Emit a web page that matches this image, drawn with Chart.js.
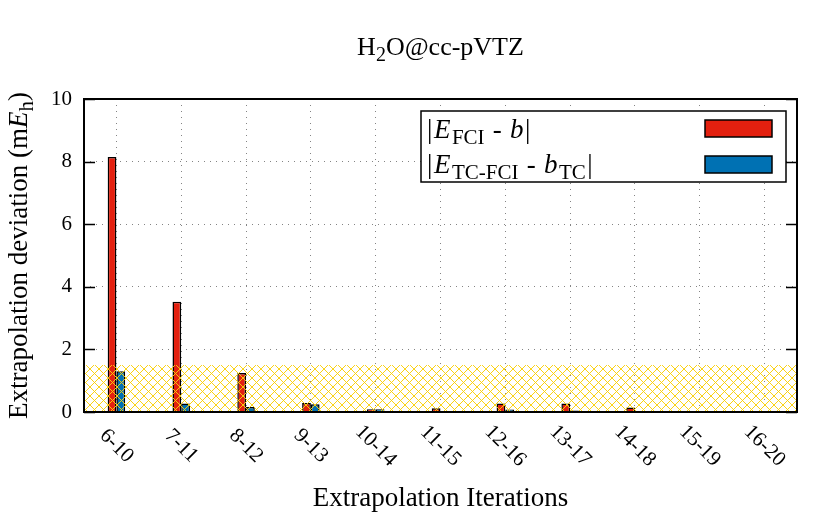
<!DOCTYPE html>
<html>
<head>
<meta charset="utf-8">
<script src="https://cdn.jsdelivr.net/npm/chart.js@4"></script>
<style>
  html, body { margin: 0; padding: 0; background: #fff; }
</style>
</head>
<body>
<canvas id="myChart" width="830" height="519"></canvas>
<script>
// data
var categories = ['6-10', '7-11', '8-12', '9-13', '10-14', '11-15', '12-16', '13-17', '14-18', '15-19', '16-20'];
var fciDev = [8.15, 3.52, 1.25, 0.29, 0.09, 0.12, 0.27, 0.27, 0.14, 0.02, 0.004];
var tcDev = [1.30, 0.27, 0.16, 0.25, 0.09, 0.02, 0.08, 0.05, 0.03, 0.01, 0.002];
var yTicks = [0, 2, 4, 6, 8, 10];
var shadeLimit = 1.5;

var SERIF = '"Liberation Serif", "Times New Roman", serif';
var RED = '#e3200f';
var BLUE = '#0071b3';

// draw a string made of pieces: n = normal, i = italic, s = subscript
function partFont(kind, size) {
    if (kind === 'i') return 'italic ' + size + 'px ' + SERIF;
    if (kind === 's') return Math.round(size * 0.78) + 'px ' + SERIF;
    return size + 'px ' + SERIF;
}
function drawRich(ctx, x, y, parts, size, align, gap) {
    gap = gap || 0;
    var w = 0;
    parts.forEach(function (p) {
        ctx.font = partFont(p[1], size);
        w += ctx.measureText(p[0]).width + gap;
    });
    if (align === 'center') x -= w / 2;
    ctx.textAlign = 'left';
    ctx.textBaseline = 'alphabetic';
    parts.forEach(function (p) {
        ctx.font = partFont(p[1], size);
        var dy = p[1] === 's' ? size * 0.24 : 0;
        ctx.fillText(p[0], x, y + dy);
        x += ctx.measureText(p[0]).width + gap;
    });
}

// yellow cross hatch
function makeHatch() {
    var c = document.createElement('canvas');
    c.width = 9; c.height = 9;
    var g = c.getContext('2d');
    g.strokeStyle = 'rgba(250, 208, 10, 0.95)';
    g.lineWidth = 1;
    g.beginPath();
    g.moveTo(-1, -1); g.lineTo(10, 10);
    g.moveTo(-1, 10); g.lineTo(10, -1);
    g.stroke();
    return c;
}

var decorations = {
    id: 'decorations',
    beforeDraw: function (chart) {
        var ctx = chart.ctx;
        ctx.save();
        ctx.fillStyle = '#fff';
        ctx.fillRect(0, 0, chart.width, chart.height);
        ctx.restore();
    },
    afterDatasetsDraw: function (chart) {
        var ctx = chart.ctx;
        var a = chart.chartArea;
        var xs = chart.scales.x, ys = chart.scales.y;
        ctx.save();

        // shaded band below the limit
        var top = ys.getPixelForValue(shadeLimit);
        ctx.fillStyle = ctx.createPattern(makeHatch(), 'repeat');
        ctx.fillRect(a.left, top, a.right - a.left, ys.getPixelForValue(0) - top);

        // frame
        ctx.strokeStyle = '#000';
        ctx.lineWidth = 2;
        ctx.strokeRect(a.left, a.top, a.right - a.left, a.bottom - a.top);

        // inward y tick marks on both sides
        ctx.lineWidth = 1.5;
        ctx.beginPath();
        yTicks.forEach(function (v) {
            var py = Math.round(ys.getPixelForValue(v)) + 0.5;
            ctx.moveTo(a.left, py); ctx.lineTo(a.left + 11, py);
            ctx.moveTo(a.right, py); ctx.lineTo(a.right - 11, py);
        });
        ctx.stroke();

        // legend
        var lx = a.right - 376, ly = a.top + 12;
        ctx.fillStyle = '#fff';
        ctx.fillRect(lx, ly, 365, 71);
        ctx.strokeStyle = '#000';
        ctx.lineWidth = 1.5;
        ctx.strokeRect(lx, ly, 365, 71);
        ctx.fillStyle = '#000';
        drawRich(ctx, lx + 6, ly + 27, [['|', 'n'], ['E', 'i'], ['FCI', 's'], [' - ', 'n'], ['b', 'i'], ['|', 'n']], 27, 'left', 1.5);
        drawRich(ctx, lx + 6, ly + 62, [['|', 'n'], ['E', 'i'], ['TC-FCI', 's'], [' - ', 'n'], ['b', 'i'], ['TC', 's'], ['|', 'n']], 27, 'left', 1.5);
        [[RED, ly + 9], [BLUE, ly + 45]].forEach(function (s) {
            ctx.fillStyle = s[0];
            ctx.fillRect(lx + 284, s[1], 67, 17);
            ctx.strokeRect(lx + 284, s[1], 67, 17);
        });

        // rotated category labels
        ctx.fillStyle = '#000';
        ctx.font = '21px ' + SERIF;
        ctx.textAlign = 'center';
        ctx.textBaseline = 'middle';
        categories.forEach(function (lab, i) {
            ctx.save();
            ctx.translate(xs.getPixelForValue(i), a.bottom + 34);
            ctx.rotate(Math.PI / 4);
            ctx.fillText(lab, 0, 0);
            ctx.restore();
        });

        // title and axis titles
        var cx = (a.left + a.right) / 2;
        drawRich(ctx, cx, 55, [['H', 'n'], ['2', 's'], ['O@cc-pVTZ', 'n']], 26, 'center');
        drawRich(ctx, cx, 506, [['Extrapolation Iterations', 'n']], 27, 'center');
        ctx.save();
        ctx.translate(27, (a.top + a.bottom) / 2);
        ctx.rotate(-Math.PI / 2);
        drawRich(ctx, 0, 0, [['Extrapolation deviation (m', 'n'], ['E', 'i'], ['h', 's'], [')', 'n']], 27, 'center');
        ctx.restore();

        ctx.restore();
    }
};

var ctx = document.getElementById('myChart').getContext('2d');
var myChart = new Chart(ctx, {
    type: 'bar',
    data: {
        labels: categories,
        datasets: [{
            label: '|E_FCI - b|',
            data: fciDev,
            backgroundColor: RED,
            borderColor: '#000',
            borderWidth: 1.5,
            categoryPercentage: 0.27,
            barPercentage: 1.0
        }, {
            label: '|E_TC-FCI - b_TC|',
            data: tcDev,
            backgroundColor: BLUE,
            borderColor: '#000',
            borderWidth: 1.5,
            categoryPercentage: 0.27,
            barPercentage: 1.0
        }]
    },
    options: {
        responsive: false,
        animation: false,
        devicePixelRatio: 1,
        layout: { padding: { top: 99, right: 33, left: 0, bottom: 0 } },
        plugins: { legend: { display: false }, title: { display: false }, tooltip: { enabled: false } },
        scales: {
            x: {
                grid: { offset: false, drawTicks: false, color: 'rgba(110,110,110,0.85)', lineWidth: 1 },
                border: { display: false, dash: [1, 5] },
                ticks: { display: false },
                afterFit: function (s) { s.height = 107; }
            },
            y: {
                min: 0,
                max: 10,
                grid: { drawTicks: false, color: 'rgba(110,110,110,0.85)', lineWidth: 1 },
                border: { display: false, dash: [1, 5] },
                ticks: {
                    stepSize: 2,
                    padding: 12,
                    color: '#000',
                    font: { family: SERIF, size: 21 }
                },
                afterFit: function (s) { s.width = 84; }
            }
        }
    },
    plugins: [decorations]
});
</script>
</body>
</html>
